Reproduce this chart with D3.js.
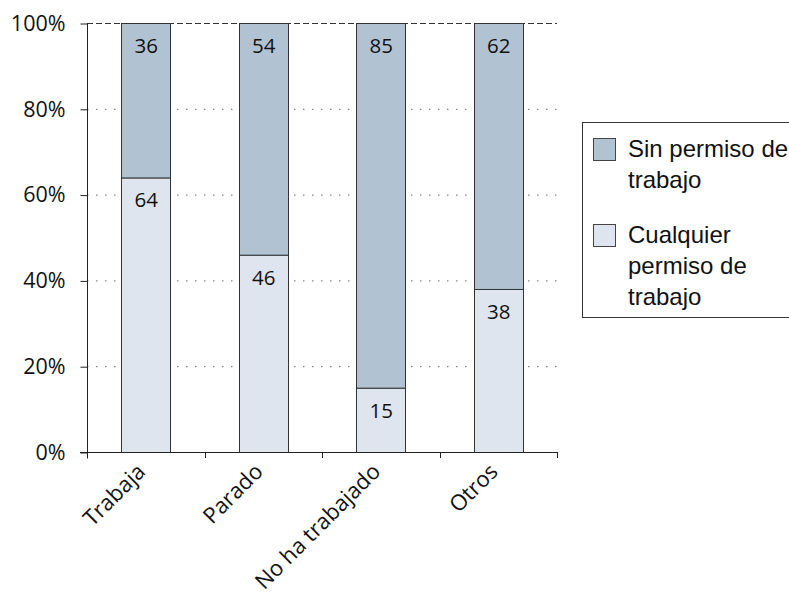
<!DOCTYPE html>
<html><head><meta charset="utf-8">
<script src="https://cdn.jsdelivr.net/npm/d3@7"></script>
<style>body{margin:0;background:#fff}svg{display:block}</style>
</head><body>
<svg id="c" width="789" height="594"></svg>
<script>
const categories = ["Trabaja", "Parado", "No ha trabajado", "Otros"];
const sinPermiso = [36, 54, 85, 62];
const cualquierPermiso = [64, 46, 15, 38];
const yTicks = [0, 20, 40, 60, 80, 100];
const seriesNames = ["Sin permiso de trabajo", "Cualquier permiso de trabajo"];
const legendLines = [["Sin permiso de", "trabajo"], ["Cualquier", "permiso de", "trabajo"]];

const colDark = "#b1c3d3", colLight = "#dfe5ee", stroke = "#333";
const svg = d3.select("#c");
const x = d3.scaleBand().domain(categories).range([87, 557]).paddingInner(0.583).paddingOuter(0.2915);
const y = d3.scaleLinear().domain([0, 100]).range([452, 23]);
const fontNum = "'Open Sans', sans-serif";

svg.append("g").selectAll("line").data(yTicks.filter(d => d > 0 && d < 100)).join("line")
  .attr("x1", 87).attr("x2", 557).attr("y1", d => y(d) + 0.5).attr("y2", d => y(d) + 0.5)
  .attr("stroke", "#666").attr("stroke-width", 1).attr("stroke-dasharray", "1.5,7.5");
svg.append("line").attr("x1", 87).attr("x2", 557).attr("y1", y(100) + 0.5).attr("y2", y(100) + 0.5)
  .attr("stroke", "#333").attr("stroke-width", 1).attr("stroke-dasharray", "6,3");

const rows = categories.map((c, i) => ({ c, low: cualquierPermiso[i], high: sinPermiso[i] }));

const g = svg.append("g");
g.selectAll("rect.low").data(rows).join("rect").attr("class", "low")
  .attr("x", d => Math.round(x(d.c)) + 0.5).attr("width", Math.round(x.bandwidth()))
  .attr("y", d => y(d.low) + 0.5).attr("height", d => y(0) - y(d.low))
  .attr("fill", colLight).attr("stroke", stroke);
g.selectAll("rect.high").data(rows).join("rect").attr("class", "high")
  .attr("x", d => Math.round(x(d.c)) + 0.5).attr("width", Math.round(x.bandwidth()))
  .attr("y", d => y(d.low + d.high) + 0.5).attr("height", d => y(d.low) - y(d.low + d.high))
  .attr("fill", colDark).attr("stroke", stroke);

g.selectAll("text.lowv").data(rows).join("text")
  .attr("x", d => x(d.c) + x.bandwidth() / 2 + 0.5).attr("y", d => y(d.low) + 30)
  .attr("text-anchor", "middle").attr("font-family", fontNum).attr("font-size", 20.5).attr("fill", "#111")
  .text(d => d.low);
g.selectAll("text.highv").data(rows).join("text")
  .attr("x", d => x(d.c) + x.bandwidth() / 2 + 0.5).attr("y", d => y(d.low + d.high) + 30)
  .attr("text-anchor", "middle").attr("font-family", fontNum).attr("font-size", 20.5).attr("fill", "#111")
  .text(d => d.high);

const yAxis = d3.axisLeft(y).tickValues(yTicks).tickFormat(d => d + "%").tickSize(7).tickPadding(15);
const ya = svg.append("g").attr("transform", "translate(87.5,0.5)").call(yAxis);
ya.select(".domain").attr("d", "M0," + y(100) + "V" + (y(0) + 6)).attr("stroke", "#222");
ya.selectAll(".tick line").attr("stroke", "#222");
ya.selectAll(".tick text").attr("font-family", fontNum).attr("font-size", 21.5).attr("fill", "#111");

svg.append("line").attr("x1", 80).attr("x2", 557).attr("y1", y(0) + 0.5).attr("y2", y(0) + 0.5).attr("stroke", "#222");
const edges = [87, 87 + x.step(), 87 + 2 * x.step(), 87 + 3 * x.step(), 557];
svg.append("g").selectAll("line").data(edges).join("line")
  .attr("x1", d => Math.round(d) + 0.5).attr("x2", d => Math.round(d) + 0.5)
  .attr("y1", y(0)).attr("y2", y(0) + 6).attr("stroke", "#222");

svg.append("g").selectAll("text").data(categories).join("text")
  .attr("transform", d => `translate(${x(d) + x.bandwidth() / 2 + 1},${y(0) + 21}) rotate(-45)`)
  .attr("text-anchor", "end").attr("font-family", fontNum).attr("font-size", 22).attr("fill", "#111")
  .text(d => d);

const lg = svg.append("g");
lg.append("rect").attr("x", 582.5).attr("y", 122.5).attr("width", 220).attr("height", 195)
  .attr("fill", "#fff").attr("stroke", "#333");
const legendItems = [
  { name: seriesNames[0], color: colDark, lines: legendLines[0], top: 138 },
  { name: seriesNames[1], color: colLight, lines: legendLines[1], top: 224 }
];
legendItems.forEach(it => {
  lg.append("rect").attr("x", 593.5).attr("y", it.top + 0.5).attr("width", 22).attr("height", 22)
    .attr("fill", it.color).attr("stroke", "#444");
  const t = lg.append("text").attr("font-family", "'Liberation Sans', Arial, sans-serif")
    .attr("font-size", 24).attr("fill", "#111");
  it.lines.forEach((l, i) => t.append("tspan").attr("x", 628).attr("y", it.top + 19 + i * 31).text(l));
});
</script>
</body></html>
